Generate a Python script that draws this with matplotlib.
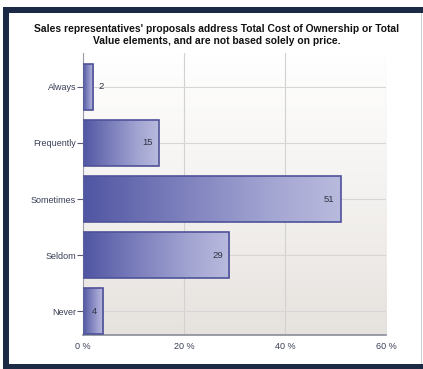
import numpy as np
import matplotlib
matplotlib.use("Agg")
import matplotlib.pyplot as plt
from matplotlib.patches import Rectangle
from matplotlib.colors import LinearSegmentedColormap

categories = ["Always", "Frequently", "Sometimes", "Seldom", "Never"]
values = [2, 15, 51, 29, 4]
xticks = [0, 20, 40, 60]
xtick_labels = ["0 %", "20 %", "40 %", "60 %"]
title = ("Sales representatives' proposals address Total Cost of Ownership or Total\n"
         "Value elements, and are not based solely on price.")

plt.rcParams['font.family'] = ['Liberation Sans', 'DejaVu Sans']

W, H = 423, 369
fig = plt.figure(figsize=(W / 100, H / 100), dpi=100)
fig.patch.set_facecolor("white")

def px_rect(x0, y0, x1, y1, color):
    fig.add_artist(Rectangle((x0 / W, 1 - y1 / H), (x1 - x0) / W, (y1 - y0) / H,
                             transform=fig.transFigure, facecolor=color,
                             edgecolor="none", zorder=0))

navy = "#1d2a45"
px_rect(3, 7, W, 13, navy)
px_rect(3, 7, 9, H, navy)
px_rect(3, 364, W, H, navy)
px_rect(421, 13, 422, 364, "#c8d0dc")

ax = fig.add_axes([83 / W, 1 - 335 / H, 303 / W, 282 / H])
ax.set_xlim(0, 60)
ax.set_ylim(4.42, -0.6)

# background gradient
bg = LinearSegmentedColormap.from_list("bg", ["#ffffff", "#f4f2f0", "#e6e2de"])
grad = np.linspace(0, 1, 256).reshape(-1, 1)
ax.imshow(grad, cmap=bg, aspect="auto", extent=[0, 60, 4.42, -0.6],
          origin="upper", zorder=0)

# grid
for x in xticks[1:]:
    ax.axvline(x, color="#d4d2d0", lw=0.8, zorder=1)
ypos = np.arange(len(categories))
for y in ypos:
    ax.axhline(y, color="#d8d6d4", lw=0.8, zorder=1)

bar_cmap = LinearSegmentedColormap.from_list(
    "bar", ["#4f55a2", "#6e72b4", "#8a8dc4", "#a5a7d3", "#b8badd"])
hgrad = np.linspace(0, 1, 256).reshape(1, -1)
bars = ax.barh(ypos, values, height=0.82, facecolor="none",
               edgecolor="#4e5298", linewidth=1.2, zorder=3)
for b in bars:
    x0, y0 = b.get_x(), b.get_y()
    w, h = b.get_width(), b.get_height()
    im = ax.imshow(hgrad, cmap=bar_cmap, aspect="auto",
                   extent=[x0, x0 + w, y0 + h, y0], zorder=2)
    im.set_clip_path(b)

for y, v in zip(ypos, values):
    if v < 3:
        ax.text(v + 1.0, y, str(v), ha="left", va="center", fontsize=6.8,
                color="#333344", zorder=4)
    else:
        ax.text(v - 1.2, y, str(v), ha="right", va="center", fontsize=6.8,
                color="#333344", zorder=4)

ax.set_yticks(ypos)
ax.set_yticklabels(categories, fontsize=6.5, color="#3a3f55")
ax.set_xticks(xticks)
ax.set_xticklabels(xtick_labels, fontsize=6.5, color="#3a3f55")
ax.tick_params(axis="y", length=4, width=0.8, color="#555a70", pad=1)
ax.tick_params(axis="x", length=0, pad=5)
for s in ["top", "right"]:
    ax.spines[s].set_visible(False)
ax.spines["left"].set_color("#9a9ca8")
ax.spines["bottom"].set_color("#8a8c98")
ax.spines["bottom"].set_linewidth(1.2)

fig.text(0.512, 1 - 35 / H, title, ha="center", va="center", fontsize=7.4,
         fontweight="bold", color="#111111", linespacing=1.15)

fig.savefig("out.png", dpi=100)
